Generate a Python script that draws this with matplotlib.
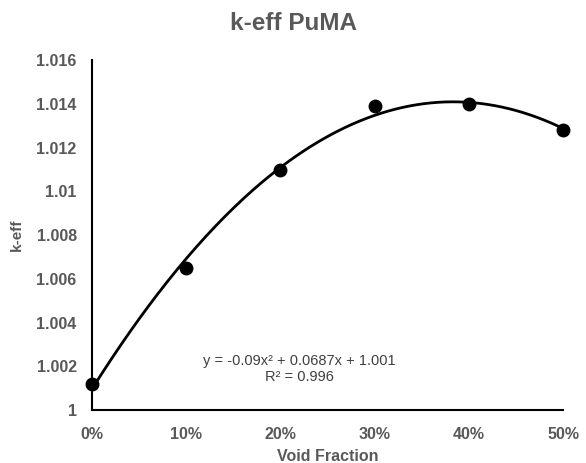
import numpy as np
import matplotlib.pyplot as plt
from matplotlib.ticker import FuncFormatter

# data
void_fraction = [0.0, 0.1, 0.2, 0.3, 0.4, 0.5]
k_eff = [1.0012, 1.0065, 1.0110, 1.0139, 1.0140, 1.0128]

# quadratic trendline, as in the Excel chart
coef = np.polyfit(void_fraction, k_eff, 2)
xs = np.linspace(0, 0.5, 200)
ys = np.polyval(coef, xs)

plt.rcParams['font.family'] = ['Liberation Sans', 'DejaVu Sans']
gray = '#595959'

fig = plt.figure(figsize=(5.86, 4.63), dpi=100)
ax = fig.add_axes([0.157, 0.1145, 0.804, 0.7555])

ax.plot(xs, ys, color='black', linewidth=2, zorder=2)
ax.plot(void_fraction, k_eff, 'o', color='black', markersize=9, zorder=3, clip_on=False)

ax.set_xlim(0, 0.5)
ax.set_ylim(1.0, 1.016)
ax.set_xticks(np.arange(0, 0.51, 0.1))
ax.set_yticks(np.arange(1.0, 1.0161, 0.002))
ax.xaxis.set_major_formatter(FuncFormatter(lambda v, p: f'{v*100:.0f}%'))
ax.yaxis.set_major_formatter(FuncFormatter(lambda v, p: f'{round(v, 3):g}'))
ax.tick_params(length=0, labelsize=11.5, labelcolor=gray)
ax.tick_params(axis='y', pad=11)
ax.tick_params(axis='x', pad=12)
for lbl in ax.get_xticklabels() + ax.get_yticklabels():
    lbl.set_fontweight('bold')

for s in ['top', 'right']:
    ax.spines[s].set_visible(False)
for s in ['left', 'bottom']:
    ax.spines[s].set_linewidth(1.5)
    ax.spines[s].set_color('black')

ax.set_xlabel('Void Fraction', fontsize=11.5, fontweight='bold', color=gray, labelpad=5)
ax.set_ylabel('k-eff', fontsize=11, fontweight='bold', color=gray, labelpad=9)
fig.suptitle('k-eff PuMA', fontsize=17.5, fontweight='bold', color=gray, y=0.975)

ax.text(0.44, 0.117, 'y = -0.09x² + 0.0687x + 1.001\nR² = 0.996',
        transform=ax.transAxes, ha='center', va='center', fontsize=10.5,
        color='#404040', linespacing=1.2)

fig.savefig('out.png', dpi=100)
